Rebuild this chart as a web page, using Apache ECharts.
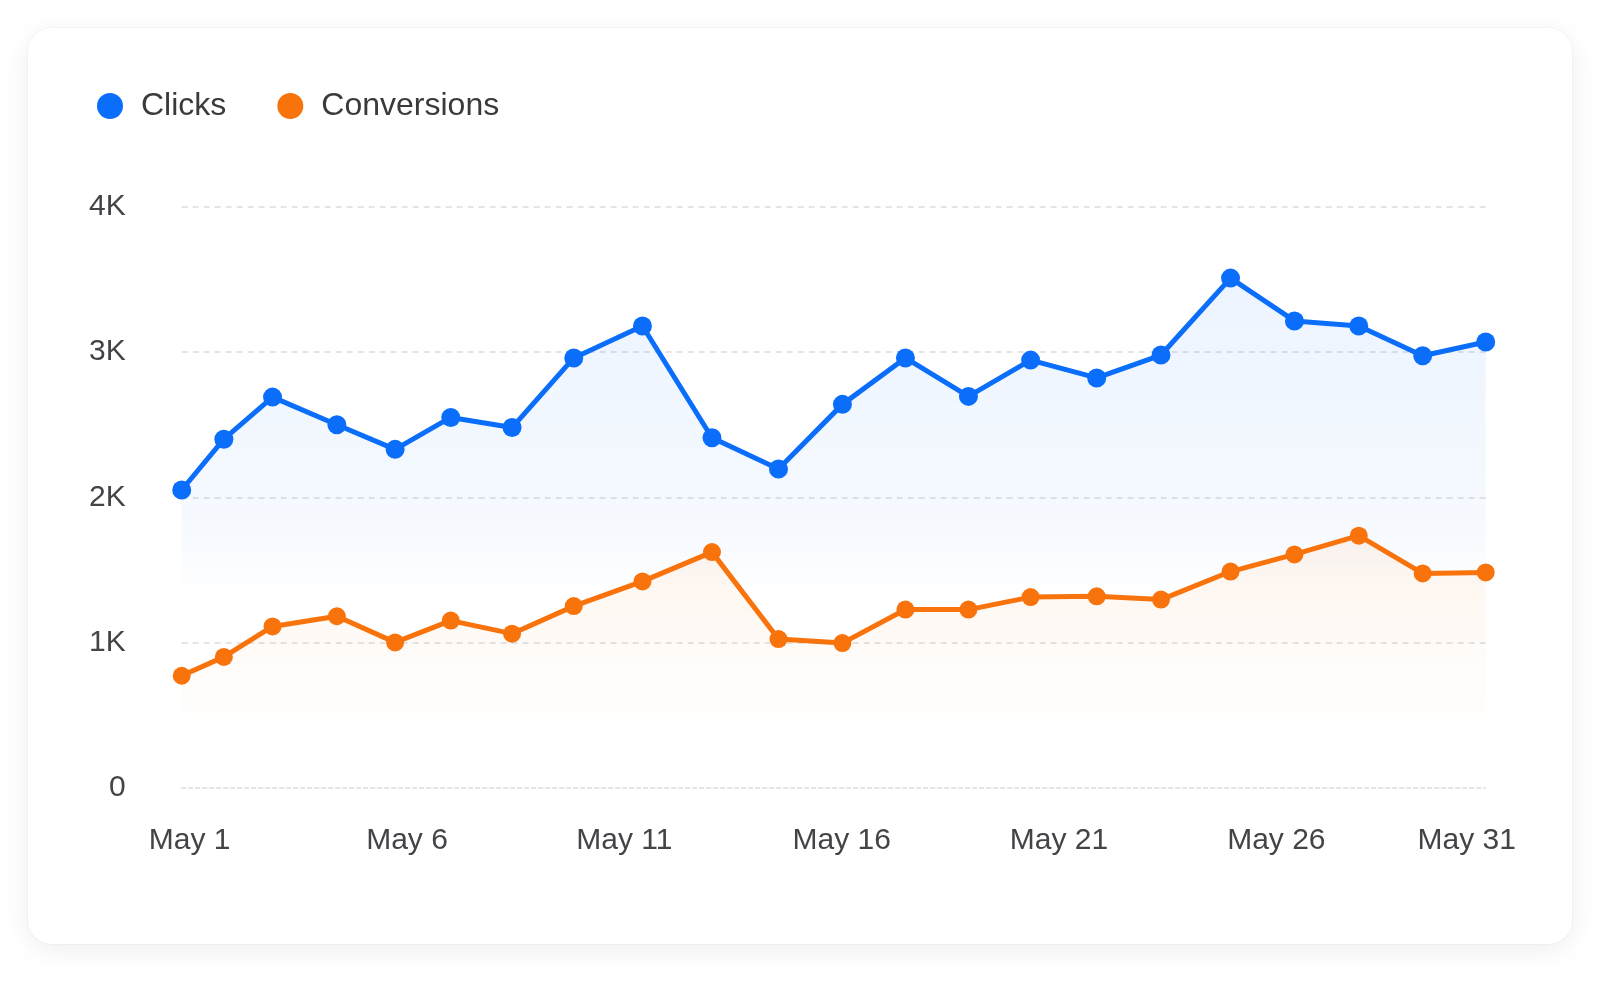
<!DOCTYPE html>
<html>
<head>
<meta charset="utf-8">
<script src="https://cdn.jsdelivr.net/npm/echarts@6/dist/echarts.min.js"></script>
<style>
  html, body { margin: 0; padding: 0; background: #ffffff; width: 1602px; height: 982px; overflow: hidden; }
  #card { position: absolute; left: 28px; top: 28px; width: 1544px; height: 916px; border-radius: 24px;
          background: #ffffff; box-shadow: 0 6px 26px rgba(0,0,0,0.07), 0 0 0 1px rgba(0,0,0,0.025); }
  #chart { position: absolute; left: 0; top: 0; width: 1602px; height: 982px; }
</style>
</head>
<body>
<div id="card"></div>
<div id="chart"></div>
<script>
// Day of May for each observation
const days = [1, 1.97, 3.09, 4.57, 5.91, 7.19, 8.6, 10.02, 11.6, 13.2, 14.73, 16.2, 17.65, 19.1, 20.53, 22.05, 23.53, 25.13, 26.6, 28.08, 29.55, 31];
const clicks = [2050, 2400, 2690, 2500, 2330, 2550, 2480, 2960, 3180, 2410, 2195, 2640, 2960, 2695, 2945, 2822, 2980, 3510, 3215, 3180, 2975, 3070];
const conversions = [770, 900, 1110, 1180, 1000, 1150, 1060, 1250, 1420, 1622, 1023, 995, 1226, 1226, 1312, 1317, 1295, 1488, 1606, 1735, 1475, 1482];
const xTickDays = [1, 6, 11, 16, 21, 26, 31];
const yTickLabels = ['0', '1K', '2K', '3K', '4K'];
const seriesNames = ['Clicks', 'Conversions'];

const BLUE = '#0A6EFA';
const ORANGE = '#F9730C';
const FONT = '"Liberation Sans", Arial, Helvetica, sans-serif';
const lastDay = xTickDays[xTickDays.length - 1];

function pairs(xs, ys) { return xs.map((x, i) => [x, ys[i]]); }

const chart = echarts.init(document.getElementById('chart'), null, { renderer: 'canvas' });
chart.setOption({
  animation: false,
  backgroundColor: 'transparent',
  textStyle: { fontFamily: FONT },
  legend: {
    left: 97, top: 90, padding: 0,
    icon: 'circle', itemWidth: 26, itemHeight: 26, itemGap: 51,
    textStyle: { fontSize: 32, color: '#3a3a3c', fontFamily: FONT, padding: [0, 0, 0, 13] },
    data: seriesNames
  },
  grid: { left: 181.7, right: 116.3, top: 207, bottom: 194.5, containLabel: false },
  xAxis: {
    type: 'value', min: 1, max: 31, interval: 5,
    axisLine: { show: true, lineStyle: { color: '#dcdce0', width: 1.5, type: [4, 3] } },
    axisTick: { show: false },
    splitLine: { show: false },
    axisLabel: {
      margin: 38, color: '#444448', fontFamily: FONT,
      customValues: xTickDays,
      formatter: v => (v === lastDay ? '{e|May ' + v + '}' : '{n|May ' + v + '}'),
      rich: {
        n: { fontSize: 30, color: '#444448', fontFamily: FONT, padding: [0, 0, 0, 16] },
        e: { fontSize: 30, color: '#444448', fontFamily: FONT, padding: [0, 38, 0, 0] }
      }
    }
  },
  yAxis: {
    type: 'value', min: 0, max: 4000, interval: 1000,
    axisLine: { show: false }, axisTick: { show: false },
    splitLine: { show: true, showMinLine: false, lineStyle: { color: '#dcdce0', width: 1.5, type: [6, 5] } },
    axisLabel: {
      margin: 56, fontSize: 30, color: '#444448', fontFamily: FONT,
      formatter: v => yTickLabels[Math.round(v / 1000)]
    }
  },
  series: [
    {
      name: seriesNames[0], type: 'line', data: pairs(days, clicks),
      color: BLUE, symbol: 'circle', symbolSize: 19,
      lineStyle: { width: 5, color: BLUE },
      itemStyle: { color: BLUE },
      areaStyle: {
        color: new echarts.graphic.LinearGradient(0, 0, 0, 1, [
          { offset: 0, color: 'rgba(10,110,250,0.11)' },
          { offset: 0.5, color: 'rgba(10,110,250,0.05)' },
          { offset: 0.62, color: 'rgba(10,110,250,0.0)' },
          { offset: 1, color: 'rgba(10,110,250,0.0)' }
        ])
      },
      z: 2
    },
    {
      name: seriesNames[1], type: 'line', data: pairs(days, conversions),
      color: ORANGE, symbol: 'circle', symbolSize: 18,
      lineStyle: { width: 5, color: ORANGE },
      itemStyle: { color: ORANGE },
      areaStyle: {
        color: new echarts.graphic.LinearGradient(0, 0, 0, 1, [
          { offset: 0, color: 'rgba(249,115,12,0.10)' },
          { offset: 0.5, color: 'rgba(249,115,12,0.04)' },
          { offset: 0.8, color: 'rgba(249,115,12,0.0)' },
          { offset: 1, color: 'rgba(249,115,12,0.0)' }
        ])
      },
      z: 3
    }
  ]
});
</script>
</body>
</html>
